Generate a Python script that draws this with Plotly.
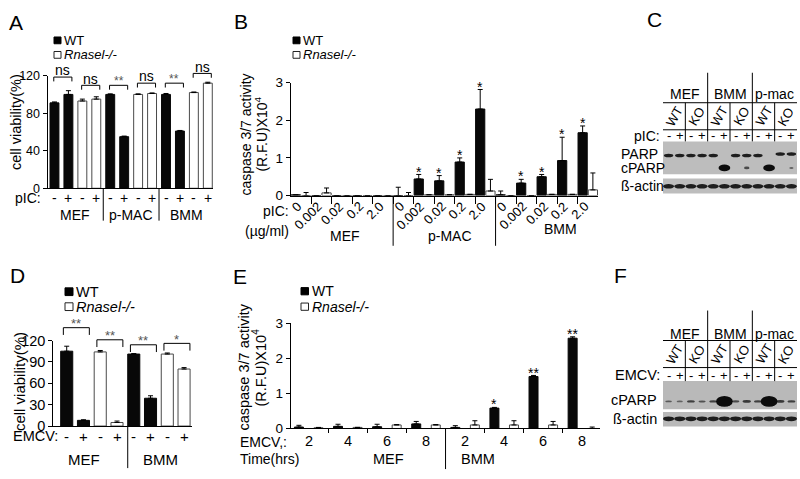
import plotly.graph_objects as go

W, H = 800, 479
FONT = "Liberation Sans, Arial, Helvetica, sans-serif"

# ---------------- data ----------------
# Panel A : cell viability after pIC
A_groups = ["MEF", "p-MAC", "BMM"]
A_genotype = ["WT", "WT", "KO", "KO"] * 3
A_treatment = ["-", "+", "-", "+"] * 3
A_values = [91, 100, 93, 95, 100, 55, 100, 101, 100, 61, 102, 112]
A_errors = [1, 4, 2, 2.5, 0.6, 0.6, 0.6, 0.6, 1, 0.6, 0.6, 1]
A_sig_pairs = [(0, 1), (2, 3), (4, 5), (6, 7), (8, 9), (10, 11)]
A_sig_labels = ["ns", "ns", "**", "ns", "**", "ns"]
A_yticks = [0, 40, 80, 120]

# Panel B : caspase 3/7 activity vs pIC dose
B_groups = ["MEF", "p-MAC", "BMM"]
B_conc_labels = ["0", "0.002", "0.02", "0.2", "2.0"]
B_wt = [0.02, 0, 0, 0, 0, 0, 0.44, 0.39, 0.89, 2.3, 0.02, 0.33, 0.5, 0.93, 1.67]
B_wt_err = [0, 0, 0, 0, 0, 0.22, 0.12, 0.14, 0.11, 0.52, 0.1, 0.1, 0.06, 0.62, 0.18]
B_ko = [0, 0.07, 0, 0, 0, 0, 0.02, 0.02, 0.03, 0.12, 0, 0, 0.03, 0.03, 0.15]
B_ko_err = [0.08, 0.13, 0, 0, 0, 0.08, 0, 0, 0, 0.31, 0, 0, 0, 0, 0.45]
B_wt_sig = ["", "", "", "", "", "", "*", "*", "*", "*", "", "*", "*", "*", "*"]
B_yticks = [0, 1, 2, 3]

# Panel D : cell viability after EMCV
D_groups = ["MEF", "BMM"]
D_genotype = ["WT", "WT", "KO", "KO"] * 2
D_treatment = ["-", "+", "-", "+"] * 2
D_values = [105, 8, 104, 5, 101, 39, 101, 80]
D_errors = [7, 0.8, 2, 2, 0.6, 3.5, 1.5, 2]
D_sig_pairs = [(0, 1), (2, 3), (4, 5), (6, 7)]
D_sig_labels = ["**", "**", "**", "*"]
D_yticks = [0, 30, 60, 90, 120]

# Panel E : caspase 3/7 activity vs EMCV time
E_groups = ["MEF", "BMM"]
E_times = ["2", "4", "6", "8"]
E_wt = [0.04, 0.06, 0.05, 0.13, 0.03, 0.58, 1.48, 2.57]
E_wt_err = [0.05, 0.06, 0.07, 0.07, 0.05, 0.02, 0.03, 0.04]
E_ko = [0.02, 0.03, 0.1, 0.1, 0.1, 0.1, 0.1, 0.0]
E_ko_err = [0.01, 0.0, 0.01, 0.01, 0.12, 0.12, 0.1, 0.04]
E_wt_sig = ["", "", "", "", "", "*", "**", "**"]
E_yticks = [0, 1, 2, 3]

# Panels C / F : western blots (relative band intensity per lane)
blot_groups = ["MEF", "BMM", "p-mac"]
blot_genotypes = ["WT", "KO"] * 3
blot_treatment = ["-", "+"] * 6
C_PARP = [1, 1, 1, 1, 1, 0, 1, 1, 1, 0, 1, 1]
C_cPARP = [0, 0, 0, 0, 0, 1, 0, 0.25, 0, 1, 0, 0.1]
C_actin = [1] * 12
F_cPARP = [0.3, 0.25, 0.45, 0.35, 0.45, 1, 0.4, 0.5, 0.45, 1, 0.5, 0.45]
F_actin = [1] * 12

# ---------------- geometry (pixels) ----------------
GEO = {
    "A": dict(x=(47.5, 213.4), xr=(-0.5, 11.4), y=(70, 186.5), yr=(0, 120), ax=("x", "y")),
    "B": dict(x=(290.7, 598), xr=(-0.5, 29.5), y=(77.3, 194), yr=(0, 3), ax=("x2", "y2")),
    "D": dict(x=(53.3, 191.6), xr=(-0.8, 7.45), y=(344, 432.5), yr=(0, 120), ax=("x3", "y3")),
    "E": dict(x=(290.7, 600), xr=(-0.42, 15.4), y=(326, 435), yr=(0, 3), ax=("x4", "y4")),
    "C": dict(x=(663, 797), xr=(-0.5, 11.5), y=(138, 192), yr=(54, 0), ax=("x5", "y5")),
    "F": dict(x=(663, 797), xr=(-0.5, 11.5), y=(386, 433), yr=(47, 0), ax=("x6", "y6")),
}


def X(p, v):
    g = GEO[p]
    a, b = g["x"]
    r0, r1 = g["xr"]
    return a + (v - r0) / (r1 - r0) * (b - a)


def Y(p, v):
    g = GEO[p]
    t, bt = g["y"]
    r0, r1 = g["yr"]
    return bt - (v - r0) / (r1 - r0) * (bt - t)


shapes = []
annotations = []


def text(s, x, y, size=13, xanchor="center", yanchor="middle", angle=0, color="black"):
    annotations.append(dict(text=s, x=x / W, y=1 - y / H, xref="paper", yref="paper",
                            showarrow=False, xanchor=xanchor, yanchor=yanchor,
                            textangle=angle, borderpad=0,
                            font=dict(family=FONT, size=size, color=color)))


def line(x0, y0, x1, y1, color="black", width=1):
    shapes.append(dict(type="line", xref="paper", yref="paper",
                       x0=x0 / W, y0=1 - y0 / H, x1=x1 / W, y1=1 - y1 / H,
                       line=dict(color=color, width=width)))


def rect(x0, y0, x1, y1, fill, lc="black", lw=1):
    shapes.append(dict(type="rect", xref="paper", yref="paper",
                       x0=x0 / W, y0=1 - y0 / H, x1=x1 / W, y1=1 - y1 / H,
                       fillcolor=fill, line=dict(color=lc, width=lw), layer="below"))


def bracket(p, i, j, yv, drop, label, size, color, lab_off):
    l, r, t = X(p, i - 0.05), X(p, j + 0.25), Y(p, yv)
    b = t + drop
    path = (f"M {l / W},{1 - b / H} L {l / W},{1 - t / H} "
            f"L {r / W},{1 - t / H} L {r / W},{1 - b / H}")
    shapes.append(dict(type="path", xref="paper", yref="paper", path=path,
                       line=dict(color="black", width=1)))
    text(label, (l + r) / 2, t - lab_off, size=size, color=color)


def legend(x, y_wt, y_ko, size, sq):
    rect(x, y_wt - sq / 2, x + sq, y_wt + sq / 2, "black")
    rect(x, y_ko - sq / 2, x + sq, y_ko + sq / 2, "white", "#222")
    text("WT", x + sq + 2, y_wt, size=size, xanchor="left")
    text("<i>Rnasel-/-</i>", x + sq + 2, y_ko, size=size, xanchor="left")


traces = []


def bars(p, xs, ys, errs, wt, width):
    xa, ya = GEO[p]["ax"]
    traces.append(go.Bar(
        x=xs, y=ys, width=width, xaxis=xa, yaxis=ya,
        marker=dict(color="#080808" if wt else "white",
                    line=dict(color="#080808" if wt else "#4a4a4a", width=1)),
        error_y=dict(type="data", array=errs, arrayminus=[0] * len(errs), symmetric=False,
                     color="black", thickness=1, width=2.5),
        showlegend=False, hoverinfo="skip"))


# ---------------- Panel A ----------------
posA = list(range(len(A_values)))
for wt in (True, False):
    idx = [i for i in posA if (A_genotype[i] == "WT") == wt]
    bars("A", idx, [A_values[i] for i in idx], [A_errors[i] for i in idx], wt, 0.64)
for (i, j), lab, yv in zip(A_sig_pairs, A_sig_labels, [118.5, 109.7, 109.7, 112, 112, 122.4]):
    if lab == "ns":
        bracket("A", i, j, yv, 4.5, lab, 14, "black", 7)
    else:
        bracket("A", i, j, yv, 4.5, lab, 12, "#555", 4)
for i in posA:
    text(A_treatment[i], X("A", i), 197, size=14)
text("pIC:", 42, 197, size=14, xanchor="right")
for g, name in enumerate(A_groups):
    text(name, X("A", 4 * g + 1.5), 214, size=14)
for s in (3.5, 7.5):
    line(X("A", s), 186.5, X("A", s), 220)
text("cell viability(%)", 16, 118, size=14.5, angle=-90)
legend(54, 33.5, 48.5, 13, 7)
text("A", 16, 14.5, size=21)

# ---------------- Panel B ----------------
posB_wt = [10 * g + 2 * c for g in range(3) for c in range(5)]
posB_ko = [p + 1 for p in posB_wt]
bars("B", posB_wt, B_wt, B_wt_err, True, 0.9)
bars("B", posB_ko, B_ko, B_ko_err, False, 0.9)
for k, s in enumerate(B_wt_sig):
    if s:
        text(s, X("B", posB_wt[k]), Y("B", B_wt[k] + B_wt_err[k]) - 3, size=14)
for k, p in enumerate(posB_wt):
    lab = B_conc_labels[k % 5]
    text(lab, X("B", p + 1.5) - 5, 196, size=13, xanchor="right", yanchor="top", angle=-45)
for s in (9.5, 19.5):
    line(X("B", s), 194, X("B", s), 246)
text("pIC:", 290, 210, size=14, xanchor="right")
text("(µg/ml)", 290, 231, size=14, xanchor="right")
text("MEF", 345, 236, size=14)
text("p-MAC", 450, 236, size=14)
text("BMM", 560, 229, size=14)
text("caspase 3/7 activity", 246, 131, size=14, angle=-90)
text("(R.F.U)X10<sup>4</sup>", 261, 131, size=14, angle=-90)
legend(293, 33.5, 48.5, 13, 7)
text("B", 241, 13.5, size=21)

# ---------------- Panel D ----------------
posD = list(range(len(D_values)))
for wt in (True, False):
    idx = [i for i in posD if (D_genotype[i] == "WT") == wt]
    bars("D", idx, [D_values[i] for i in idx], [D_errors[i] for i in idx], wt, 0.72)
for (i, j), lab, yv in zip(D_sig_pairs, D_sig_labels, [138, 121, 114, 116]):
    bracket("D", i - 0.15, j + 0.1, yv, 7.5, lab, 13, "#555", 4)
for i in posD:
    text(D_treatment[i], X("D", i), 443, size=15)
text("EMCV:", 59, 443, size=14.5, xanchor="right")
text("MEF", 84, 467, size=15)
text("BMM", 160, 467, size=15)
line(X("D", 3.64), 432.5, X("D", 3.64), 476)
text("cell viability(%)", 19, 387, size=15, angle=-90)
legend(65, 293.5, 309, 14.5, 8)
text("D", 17, 277, size=21)

# ---------------- Panel E ----------------
posE_wt = [8 * g + 2 * t for g in range(2) for t in range(4)]
posE_ko = [p + 1 for p in posE_wt]
bars("E", posE_wt, E_wt, E_wt_err, True, 0.46)
bars("E", posE_ko, E_ko, E_ko_err, False, 0.46)
for k, s in enumerate(E_wt_sig):
    if s:
        text(s, X("E", posE_wt[k]), Y("E", E_wt[k] + E_wt_err[k]) - 3, size=14)
for k, p in enumerate(posE_wt):
    text(E_times[k % 4], X("E", p + 0.5), 448, size=14.5)
line(X("E", 7.5), 435, X("E", 7.5), 477)
text("EMCV,:", 239, 449, size=14, xanchor="left")
text("Time(hrs)", 239, 467, size=14, xanchor="left")
text("MEF", 388, 467, size=14.5)
text("BMM", 478, 467, size=14.5)
text("caspase 3/7 activity", 244, 372, size=14.5, angle=-90)
text("(R.F.U)X10<sup>4</sup>", 259, 372, size=14.5, angle=-90)
legend(301, 293, 309, 14, 7.5)
text("E", 240, 278, size=21)


# ---------------- Blots C / F ----------------
def blot_header(p, top, y_grp, y_line1, y_gt, y_line2, y_trt, trt_label, trt_size, blot_top):
    x0, x1 = GEO[p]["x"]
    for g, name in enumerate(blot_groups):
        text(name, X(p, 4 * g + 1.5), y_grp, size=14)
    line(x0, y_line1, x1, y_line1)
    line(x0, y_line2, x1, y_line2)
    for s in (3.5, 7.5):
        line(X(p, s), top, X(p, s), blot_top)
    for s in (1.5, 5.5, 9.5):
        line(X(p, s), y_line1, X(p, s), blot_top)
    for k, gt in enumerate(blot_genotypes):
        text(gt, X(p, 2 * k + 0.5), y_gt, size=13, angle=-60)
    for k, t in enumerate(blot_treatment):
        text(t, X(p, k), y_trt, size=13)
    text(trt_label, 661, y_trt, size=trt_size, xanchor="right")


def band(p, lane, row, w, h, opacity):
    xa, ya = GEO[p]["ax"]
    shapes.append(dict(type="circle", xref=xa, yref=ya,
                       x0=lane - w / 2, x1=lane + w / 2, y0=row - h / 2, y1=row + h / 2,
                       fillcolor="#0c0c0c", opacity=opacity, line=dict(width=0)))


# C
blot_header("C", 67, 89, 98, 112, 126, 132, "pIC:", 14, 138)
rect(663, 138, 797, 172, "#bdbdbd", "#bdbdbd", 0)
rect(663, 176.5, 797, 192, "#bdbdbd", "#bdbdbd", 0)
for k in range(12):
    if C_PARP[k]:
        band("C", k, 14.5 if k < 10 else 13, 0.85, 3.6, 0.9 * C_PARP[k])
    v = C_cPARP[k]
    if v:
        band("C", k, 27.5, 0.3 + 0.75 * v, 1.5 + 5.5 * v, min(1, 0.4 + v))
    band("C", k, 46.5, 1.0, 4.6, 0.9 * C_actin[k])
text("PARP", 620, 151, size=14, xanchor="left")
text("cPARP", 620, 166, size=14, xanchor="left")
text("ß-actin", 620, 184.5, size=14, xanchor="left")
text("C", 654, 12, size=21)

# F
blot_header("F", 313, 337, 344, 358, 372, 380, "EMCV:", 14.5, 386)
rect(663, 386, 797, 415, "#b9b9b9", "#b9b9b9", 0)
rect(663, 418, 797, 433, "#b9b9b9", "#b9b9b9", 0)
for k in range(12):
    v = F_cPARP[k]
    band("F", k, 21, 0.5 + 1.0 * v * v, 1.6 + 9.5 * v ** 3, min(1, 0.25 + v))
    band("F", k, 39, 1.0, 5, 0.9 * F_actin[k])
text("cPARP", 658, 406, size=14.5, xanchor="right")
text("ß-actin", 658, 425, size=14.5, xanchor="right")
text("F", 620, 277, size=21)

# ---------------- layout ----------------
tickfont = {"A": 12.5, "B": 13.5, "D": 14.5, "E": 13.5}
yticks = {"A": A_yticks, "B": B_yticks, "D": D_yticks, "E": E_yticks}
xticks = {"A": [], "B": [2 * c + 1.5 for c in range(14)], "D": [],
          "E": [1.5, 3.5, 5.5, 9.5, 11.5, 13.5]}
xticklen = {"A": 0, "B": 7, "D": 0, "E": 4}

layout = dict(width=W, height=H, margin=dict(l=0, r=0, t=0, b=0), autosize=False,
              paper_bgcolor="white", plot_bgcolor="white", showlegend=False,
              barmode="overlay", font=dict(family=FONT, color="black"),
              shapes=shapes, annotations=annotations)

for p, g in GEO.items():
    xa, ya = g["ax"]
    xkey = "xaxis" if xa == "x" else "xaxis" + xa[1:]
    ykey = "yaxis" if ya == "y" else "yaxis" + ya[1:]
    xd = [g["x"][0] / W, g["x"][1] / W]
    yd = [1 - g["y"][1] / H, 1 - g["y"][0] / H]
    if p in ("C", "F"):
        layout[xkey] = dict(domain=xd, range=list(g["xr"]), anchor=ya, visible=False, fixedrange=True)
        layout[ykey] = dict(domain=yd, range=list(g["yr"]), anchor=xa, visible=False, fixedrange=True)
        continue
    layout[xkey] = dict(domain=xd, range=list(g["xr"]), anchor=ya, showgrid=False, zeroline=False,
                        showline=True, linecolor="black", linewidth=1,
                        tickvals=xticks[p], ticks="outside" if xticks[p] else "",
                        ticklen=xticklen[p], tickcolor="black", showticklabels=False,
                        fixedrange=True)
    layout[ykey] = dict(domain=yd, range=list(g["yr"]), anchor=xa, showgrid=False, zeroline=False,
                        showline=True, linecolor="black", linewidth=1,
                        tickvals=yticks[p], ticks="outside", ticklen=4, tickcolor="black",
                        tickfont=dict(family=FONT, size=tickfont[p], color="black"),
                        fixedrange=True)

fig = go.Figure(data=traces, layout=layout)
fig.write_html(
    "out.html",
    config={"displayModeBar": False},
    post_script="document.body.style.margin='0';document.body.style.overflow='hidden';",
)
